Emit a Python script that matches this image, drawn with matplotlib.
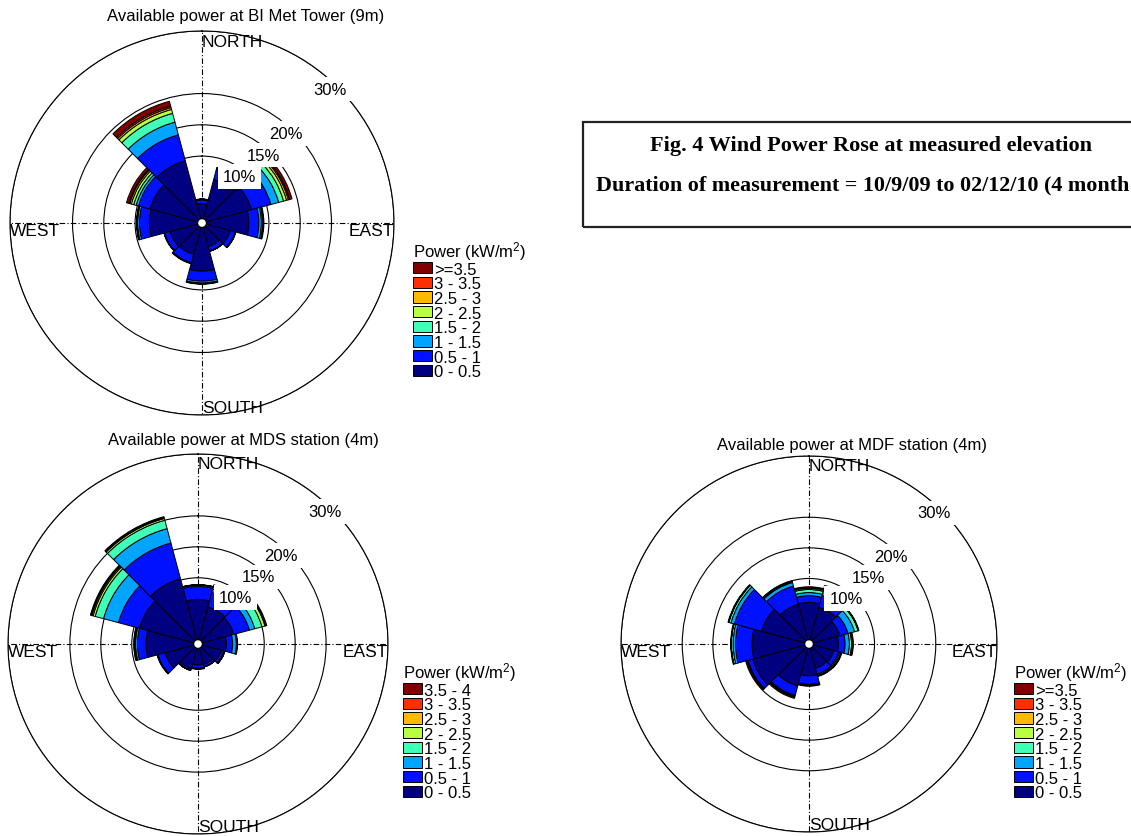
import numpy as np
import matplotlib
matplotlib.use("Agg")
import matplotlib.pyplot as plt
from matplotlib.patches import Patch, Rectangle

plt.rcParams['font.family'] = ['Liberation Sans', 'DejaVu Sans']
plt.rcParams['mathtext.fontset'] = 'custom'
plt.rcParams['mathtext.rm'] = 'Liberation Sans'
plt.rcParams['mathtext.it'] = 'Liberation Sans:italic'

# Direction sectors (degrees, clockwise from north)
directions = [0, 30, 60, 90, 120, 150, 180, 210, 240, 270, 300, 330]

# Legend labels (bins of available power, kW/m^2)
labels_bi = ['>=3.5', '3 - 3.5', '2.5 - 3', '2 - 2.5', '1.5 - 2', '1 - 1.5', '0.5 - 1', '0 - 0.5']
labels_mds = ['3.5 - 4', '3 - 3.5', '2.5 - 3', '2 - 2.5', '1.5 - 2', '1 - 1.5', '0.5 - 1', '0 - 0.5']
labels_mdf = ['>=3.5', '3 - 3.5', '2.5 - 3', '2 - 2.5', '1.5 - 2', '1 - 1.5', '0.5 - 1', '0 - 0.5']

# Frequency (%) per sector for each power bin, BI Met Tower (9m)
bi_0_05   = [2.4, 6.5, 7.5, 6.8, 4.0, 3.2, 7.0, 4.5, 4.6, 7.7, 7.9, 9.6]
bi_05_1   = [0.6, 1.5, 3.2, 1.6, 0.8, 0.7, 1.6, 1.4, 0.9, 1.6, 1.9, 4.3]
bi_1_15   = [0.05, 0.2, 1.3, 0.4, 0.05, 0.05, 0.3, 0.05, 0.05, 0.3, 0.4, 2.1]
bi_15_2   = [0.05, 0.1, 0.8, 0.2, 0.0, 0.0, 0.1, 0.0, 0.0, 0.1, 0.4, 1.45]
bi_2_25   = [0.0, 0.05, 0.5, 0.1, 0.0, 0.0, 0.0, 0.0, 0.0, 0.0, 0.4, 0.65]
bi_25_3   = [0.0, 0.05, 0.3, 0.0, 0.0, 0.0, 0.0, 0.0, 0.0, 0.0, 0.25, 0.3]
bi_3_35   = [0.0, 0.0, 0.2, 0.0, 0.0, 0.0, 0.0, 0.0, 0.0, 0.0, 0.15, 0.25]
bi_35     = [0.05, 0.1, 0.4, 0.1, 0.05, 0.05, 0.1, 0.1, 0.05, 0.1, 0.4, 0.8]

# MDS station (4m)
mds_0_05  = [6.5, 5.5, 5.3, 3.9, 3.2, 2.7, 2.7, 3.4, 4.8, 7.7, 9.1, 10.2]
mds_05_1  = [2.1, 2.4, 2.6, 1.0, 0.4, 0.35, 0.5, 0.3, 1.2, 1.4, 3.5, 6.0]
mds_1_15  = [0.2, 0.6, 0.9, 0.6, 0.15, 0.05, 0.1, 0.0, 0.05, 0.3, 2.5, 2.4]
mds_15_2  = [0.05, 0.5, 1.2, 0.1, 0.0, 0.0, 0.0, 0.0, 0.0, 0.15, 1.4, 1.4]
mds_2_25  = [0.0, 0.1, 0.5, 0.0, 0.0, 0.0, 0.0, 0.0, 0.0, 0.0, 0.35, 0.3]
mds_25_3  = [0.0, 0.0, 0.1, 0.0, 0.0, 0.0, 0.0, 0.0, 0.0, 0.0, 0.2, 0.1]
mds_3_35  = [0.0, 0.0, 0.0, 0.0, 0.0, 0.0, 0.0, 0.0, 0.0, 0.0, 0.1, 0.05]
mds_35_4  = [0.05, 0.1, 0.2, 0.1, 0.05, 0.05, 0.1, 0.0, 0.1, 0.15, 0.15, 0.15]

# MDF station (4m)
mdf_0_05  = [6.1, 5.5, 4.5, 4.1, 3.5, 3.4, 4.5, 6.4, 8.8, 8.6, 7.3, 6.0]
mdf_05_1  = [1.1, 2.0, 1.4, 1.1, 0.8, 1.0, 1.4, 1.6, 0.8, 2.7, 4.6, 3.1]
mdf_1_15  = [0.5, 1.0, 1.1, 0.7, 0.2, 0.2, 0.1, 0.15, 0.1, 0.4, 0.6, 0.6]
mdf_15_2  = [0.5, 0.4, 0.6, 0.35, 0.2, 0.1, 0.05, 0.1, 0.0, 0.3, 0.35, 0.15]
mdf_2_25  = [0.2, 0.1, 0.05, 0.1, 0.05, 0.0, 0.0, 0.05, 0.0, 0.0, 0.05, 0.0]
mdf_25_3  = [0.1, 0.0, 0.0, 0.0, 0.0, 0.0, 0.0, 0.0, 0.0, 0.0, 0.0, 0.0]
mdf_3_35  = [0.0, 0.0, 0.0, 0.0, 0.0, 0.0, 0.0, 0.0, 0.0, 0.0, 0.0, 0.0]
mdf_35    = [0.15, 0.2, 0.1, 0.2, 0.1, 0.1, 0.15, 0.2, 0.2, 0.1, 0.1, 0.15]

ring_values = [10, 15, 20, 30]
ring_labels = ['10%', '15%', '20%', '30%']
ring_label_angles = [39, 42, 43, 43.7]

titles = ['Available power at BI Met Tower (9m)',
          'Available power at MDS station (4m)',
          'Available power at MDF station (4m)']

caption_1 = 'Fig. 4 Wind Power Rose at measured elevation'
caption_2 = 'Duration of measurement = 10/9/09 to 02/12/10 (4 month'

colors = plt.cm.jet(np.linspace(0, 1, 8))

W, H = 1131, 837
fig = plt.figure(figsize=(W / 100, H / 100), dpi=100)


def fx(px):
    return px / W


def fy(py):
    return 1 - py / H


def rose(box, bins, title, title_xy, legend_labels, legend_xy):
    cx, cy, R = box
    ax = fig.add_axes([fx(cx - R), fy(cy + R), 2 * R / W, 2 * R / H], projection='polar')
    theta = np.deg2rad(directions)
    width = 2 * np.pi / len(directions)
    bottom = np.zeros(len(directions))
    for vals, col in zip(bins, colors):
        vals = np.asarray(vals, dtype=float)
        ax.bar(theta, vals, width=width, bottom=bottom, color=col,
               edgecolor='black', linewidth=0.7, align='center', zorder=3)
        bottom = bottom + vals
    ax.set_theta_zero_location('N')
    ax.set_theta_direction(-1)
    ax.set_ylim(0, 30)
    ax.set_rorigin(-0.7)
    ax.set_yticks(ring_values)
    ax.set_yticklabels([])
    ax.set_xticks(np.deg2rad([0, 90, 180, 270]))
    ax.set_xticklabels([])
    ax.set_axisbelow(True)
    ax.yaxis.grid(True, color='black', linewidth=0.8, linestyle='-')
    ax.xaxis.grid(True, color='black', linewidth=0.8, linestyle=(0, (5, 2, 1, 2)))
    ax.spines['polar'].set_linewidth(0.8)
    ax.spines['polar'].set_color('black')
    for rv, lab, ang in zip(ring_values, ring_labels, ring_label_angles):
        ax.text(np.deg2rad(ang), rv - 1.1, lab, ha='center', va='center', fontsize=12,
                bbox=dict(facecolor='white', edgecolor='none', pad=3.5), zorder=6)
    kw = dict(fontsize=12.5, zorder=7, clip_on=False)
    ax.text(0, 29.6, 'NORTH', ha='left', va='top', **kw)
    ax.text(np.pi, 30, 'SOUTH', ha='left', va='bottom', **kw)
    ax.text(np.pi / 2, 30, 'EAST', ha='right', va='top', **kw)
    ax.text(3 * np.pi / 2, 30, 'WEST', ha='left', va='top', **kw)
    fig.text(fx(title_xy[0]), fy(title_xy[1]), title, ha='center', va='center', fontsize=12)
    handles = [Patch(facecolor=c, edgecolor='black', linewidth=0.7) for c in colors[::-1]]
    fig.legend(handles, legend_labels, loc='upper left',
               bbox_to_anchor=(fx(legend_xy[0]), fy(legend_xy[1])),
               title='Power (kW/m$^{2}$)', title_fontsize=12, fontsize=12,
               frameon=False, handlelength=1.15, handleheight=0.65,
               handletextpad=0.12, labelspacing=-0.02, borderpad=0,
               borderaxespad=0, alignment='left')
    return ax


rose((202, 224, 192),
     [bi_0_05, bi_05_1, bi_1_15, bi_15_2, bi_2_25, bi_25_3, bi_3_35, bi_35],
     titles[0], (246, 17), labels_bi, (413, 240))
rose((198, 645, 190),
     [mds_0_05, mds_05_1, mds_1_15, mds_15_2, mds_2_25, mds_25_3, mds_3_35, mds_35_4],
     titles[1], (243, 441), labels_mds, (403, 661))
rose((809, 645, 188),
     [mdf_0_05, mdf_05_1, mdf_1_15, mdf_15_2, mdf_2_25, mdf_25_3, mdf_3_35, mdf_35],
     titles[2], (852, 446), labels_mdf, (1014, 661))

# Caption box
box_l, box_t, box_b = 583, 123, 228
fig.patches.append(Rectangle((fx(box_l), fy(box_b)), fx(1200) - fx(box_l), fy(box_t) - fy(box_b),
                             transform=fig.transFigure, fill=False,
                             edgecolor='#222222', linewidth=1.6))
serif = ['Liberation Serif', 'DejaVu Serif']
fig.text(fx(871), fy(146), caption_1, ha='center', va='center', fontsize=16,
         fontweight='bold', family=serif)
fig.text(fx(1129), fy(185), caption_2, ha='right', va='center', fontsize=15.9,
         fontweight='bold', family=serif)

fig.savefig('out.png', dpi=100)
